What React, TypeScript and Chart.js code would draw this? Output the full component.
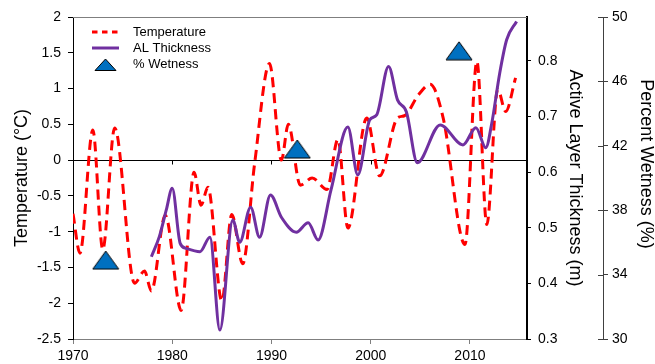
import React, { useEffect, useRef } from "react";
import { Chart, registerables } from "chart.js";

Chart.register(...registerables);

const FONT = "Arial, 'Liberation Sans', Helvetica, sans-serif";

// Temperature (°C) – smoothed annual curve
const tempYears = [1970.0, 1970.7, 1972.0, 1973.0, 1974.2, 1976.2, 1977.2, 1977.9, 1979.3, 1980.9, 1982.2, 1982.9, 1983.6, 1985.0, 1986.0, 1987.1, 1988.3, 1989.8, 1991.0, 1991.7, 1992.9, 1994.1, 1995.6, 1996.7, 1997.7, 1999.6, 2000.9, 2002.7, 2003.4, 2004.8, 2006.0, 2007.3, 2009.5, 2010.7, 2011.7, 2012.8, 2013.6, 2014.6];
const tempValues = [-0.75, -1.3, 0.42, -1.25, 0.45, -1.72, -1.55, -1.83, -0.77, -2.1, -0.17, -0.63, -0.38, -1.97, -0.76, -1.45, -0.05, 1.35, 0.0, 0.5, -0.35, -0.25, -0.41, 0.29, -0.95, 0.59, -0.22, 0.59, 0.62, 0.91, 1.06, 0.59, -1.18, 1.38, -0.9, 0.99, 0.68, 1.15];

// Active layer thickness (m)
const alYears = [1977.9, 1978.7, 1979.4, 1980.0, 1980.8, 1981.4, 1982.8, 1983.8, 1984.8, 1986.1, 1986.8, 1987.9, 1988.8, 1989.9, 1991.0, 1992.5, 1993.7, 1994.7, 1996.0, 1997.7, 1998.7, 1999.9, 2000.6, 2001.8, 2002.7, 2003.6, 2004.7, 2007.0, 2009.3, 2010.6, 2011.6, 2012.2, 2013.0, 2013.7, 2014.7];
const alValues = [0.448, 0.484, 0.532, 0.571, 0.472, 0.463, 0.457, 0.483, 0.316, 0.514, 0.474, 0.537, 0.483, 0.559, 0.519, 0.492, 0.509, 0.478, 0.568, 0.681, 0.595, 0.694, 0.703, 0.79, 0.73, 0.708, 0.617, 0.685, 0.649, 0.68, 0.644, 0.688, 0.778, 0.838, 0.871];

// Percent wetness (%)
const wetYears = [1973.3, 1992.6, 2008.9];
const wetValues = [34.9, 41.8, 47.9];

const seriesLabels = ["Temperature", "AL Thickness", "% Wetness"];
const xTicks = [1970, 1980, 1990, 2000, 2010];
const tempTicks = [-2.5, -2, -1.5, -1, -0.5, 0, 0.5, 1, 1.5, 2];
const alTicks = [0.3, 0.4, 0.5, 0.6, 0.7, 0.8];
const wetTicks = [30, 34, 38, 42, 46, 50];

const RED = "#FF0000";
const PURPLE = "#7030A0";
const BLUE = "#0070C0";

function makeTriangle(w: number, h: number): HTMLCanvasElement {
  const c = document.createElement("canvas");
  c.width = w + 2;
  c.height = h + 2;
  const g = c.getContext("2d")!;
  g.beginPath();
  g.moveTo(1, h + 1);
  g.lineTo(w + 1, h + 1);
  g.lineTo(w / 2 + 1, 1);
  g.closePath();
  g.fillStyle = BLUE;
  g.fill();
  g.strokeStyle = "#000";
  g.lineWidth = 1;
  g.stroke();
  return c;
}

const decor = {
  id: "decor",
  beforeDatasetsDraw(chart: any) {
    const { ctx, chartArea: a, scales } = chart;
    ctx.save();
    ctx.lineWidth = 1;
    // top border
    ctx.strokeStyle = "#7f7f7f";
    const yt = Math.round(a.top) + 0.5;
    ctx.beginPath();
    ctx.moveTo(a.left, yt);
    ctx.lineTo(a.right, yt);
    ctx.stroke();
    // zero line with ticks
    ctx.strokeStyle = "#000";
    const y0 = Math.round(scales.y.getPixelForValue(0)) + 0.5;
    ctx.beginPath();
    ctx.moveTo(a.left, y0);
    ctx.lineTo(a.right, y0);
    for (const v of xTicks) {
      if (v === xTicks[0]) continue;
      const x = Math.round(scales.x.getPixelForValue(v)) + 0.5;
      ctx.moveTo(x, y0);
      ctx.lineTo(x, y0 + 4);
    }
    ctx.stroke();
    // inner half of crossing ticks on wetness axis
    ctx.strokeStyle = "#404040";
    const ax = scales.y2.left;
    ctx.beginPath();
    for (const v of wetTicks) {
      const y = Math.round(scales.y2.getPixelForValue(v)) + 0.5;
      ctx.moveTo(ax - 5, y);
      ctx.lineTo(ax, y);
    }
    ctx.stroke();
    ctx.restore();
  },
  afterDraw(chart: any) {
    const { ctx } = chart;
    ctx.save();
    // legend
    ctx.lineCap = "butt";
    ctx.lineWidth = 3;
    ctx.strokeStyle = RED;
    ctx.setLineDash([5.5, 4.5]);
    ctx.beginPath();
    ctx.moveTo(92, 32);
    ctx.lineTo(119, 32);
    ctx.stroke();
    ctx.setLineDash([]);
    ctx.strokeStyle = PURPLE;
    ctx.beginPath();
    ctx.moveTo(92, 48);
    ctx.lineTo(119, 48);
    ctx.stroke();
    ctx.beginPath();
    ctx.moveTo(95, 70.5);
    ctx.lineTo(116, 70.5);
    ctx.lineTo(105.5, 59);
    ctx.closePath();
    ctx.fillStyle = BLUE;
    ctx.fill();
    ctx.lineWidth = 1;
    ctx.strokeStyle = "#000";
    ctx.stroke();
    ctx.fillStyle = "#000";
    ctx.font = `13px ${FONT}`;
    ctx.textBaseline = "middle";
    ctx.textAlign = "left";
    ctx.fillText(seriesLabels[0], 133, 32);
    ctx.fillText(seriesLabels[1], 133, 48);
    ctx.fillText(seriesLabels[2], 133, 64);
    // wetness axis title
    ctx.translate(646, 164);
    ctx.rotate(Math.PI / 2);
    ctx.font = `18px ${FONT}`;
    ctx.textAlign = "center";
    ctx.fillText("Percent Wetness (%)", 0, 0);
    ctx.restore();
  },
};

export default function App() {
  const ref = useRef<HTMLCanvasElement | null>(null);

  useEffect(() => {
    document.body.style.margin = "0";
    const canvas = ref.current;
    if (!canvas) return;
    const tri = makeTriangle(26, 18);
    const tickFont = { family: FONT, size: 14 };
    const titleFont = { family: FONT, size: 18, lineHeight: 1 };

    const chart = new Chart(canvas, {
      type: "line",
      data: {
        datasets: [
          {
            label: seriesLabels[0],
            data: tempYears.map((x, i) => ({ x, y: tempValues[i] })),
            yAxisID: "y",
            borderColor: RED,
            borderWidth: 3,
            borderDash: [10, 6],
            pointRadius: 0,
            cubicInterpolationMode: "monotone",
            fill: false,
            order: 2,
          },
          {
            label: seriesLabels[1],
            data: alYears.map((x, i) => ({ x, y: alValues[i] })),
            yAxisID: "y1",
            borderColor: PURPLE,
            borderWidth: 3,
            pointRadius: 0,
            cubicInterpolationMode: "monotone",
            fill: false,
            order: 1,
          },
          {
            label: seriesLabels[2],
            data: wetYears.map((x, i) => ({ x, y: wetValues[i] })),
            yAxisID: "y2",
            showLine: false,
            pointStyle: tri as any,
            pointRadius: 10,
            borderColor: "#000",
            backgroundColor: BLUE,
            order: 0,
          },
        ],
      } as any,
      options: {
        responsive: false,
        animation: false,
        devicePixelRatio: 1,
        events: [],
        layout: { padding: { top: 17, left: 0, right: 0, bottom: 0 } },
        plugins: { legend: { display: false }, tooltip: { enabled: false } },
        scales: {
          x: {
            type: "linear",
            position: "bottom",
            min: 1970,
            max: 2015.75,
            afterBuildTicks: (s: any) => {
              s.ticks = xTicks.map((v) => ({ value: v }));
            },
            ticks: {
              font: tickFont,
              color: "#000",
              padding: 4,
              maxRotation: 0,
              autoSkip: false,
              callback: (v: any) => String(v),
            },
            grid: { drawOnChartArea: false, drawTicks: true, tickLength: 5, tickColor: "#7f7f7f" },
            border: { display: true, color: "#7f7f7f", width: 1 },
            afterFit: (s: any) => {
              s.height = 25;
            },
          },
          y: {
            type: "linear",
            position: "left",
            min: -2.5,
            max: 2,
            afterBuildTicks: (s: any) => {
              s.ticks = tempTicks.map((v) => ({ value: v }));
            },
            ticks: { font: tickFont, color: "#000", padding: 7, callback: (v: any) => String(v) },
            grid: { drawOnChartArea: false, drawTicks: true, tickLength: 5, tickColor: "#000" },
            border: { display: true, color: "#000", width: 1 },
            title: {
              display: true,
              text: "Temperature (°C)",
              color: "#000",
              font: titleFont,
              padding: { top: 13.5, bottom: 0 },
            },
            afterFit: (s: any) => {
              s.width = 73;
            },
          },
          y1: {
            type: "linear",
            position: "right",
            weight: 0,
            min: 0.3,
            max: 0.879,
            afterBuildTicks: (s: any) => {
              s.ticks = alTicks.map((v) => ({ value: v }));
            },
            ticks: { font: tickFont, color: "#000", padding: 7, callback: (v: any) => Number(v).toFixed(1) },
            grid: { drawOnChartArea: false, drawTicks: true, tickLength: 4, tickColor: "#000" },
            border: { display: true, color: "#000", width: 2 },
            title: {
              display: true,
              text: "Active Layer Thickness (m)",
              color: "#000",
              font: titleFont,
              padding: { top: 19.5, bottom: 0 },
            },
            afterFit: (s: any) => {
              s.width = 76;
            },
          },
          y2: {
            type: "linear",
            position: "right",
            weight: 1,
            min: 30,
            max: 50,
            afterBuildTicks: (s: any) => {
              s.ticks = wetTicks.map((v) => ({ value: v }));
            },
            ticks: { font: tickFont, color: "#000", padding: 4, callback: (v: any) => String(v) },
            grid: { drawOnChartArea: false, drawTicks: true, tickLength: 5, tickColor: "#404040" },
            border: { display: true, color: "#404040", width: 1 },
            title: { display: false },
            afterFit: (s: any) => {
              s.width = 52;
            },
          },
        },
      } as any,
      plugins: [decor],
    });
    return () => chart.destroy();
  }, []);

  return (
    <div style={{ width: 655, height: 364, position: "relative" }}>
      <canvas ref={ref} width={655} height={364} style={{ display: "block" }} />
    </div>
  );
}
